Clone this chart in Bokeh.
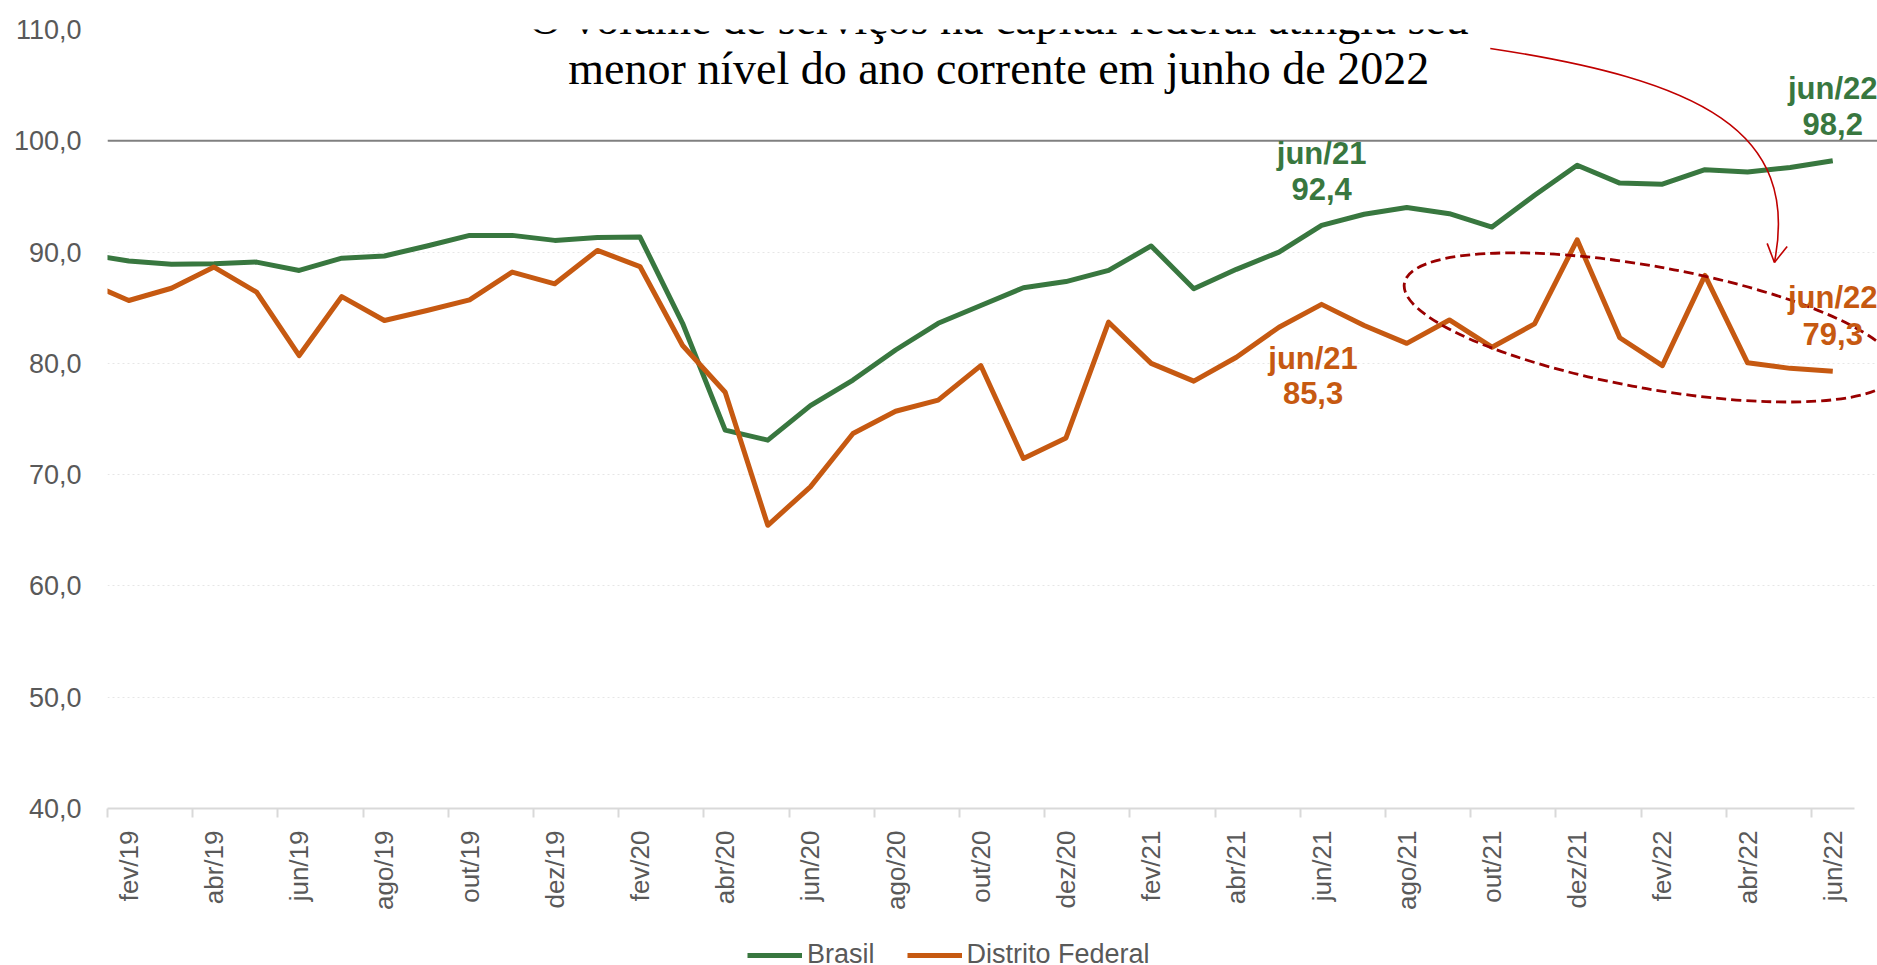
from bokeh.plotting import figure
from bokeh.layouts import column
from bokeh.models import FixedTicker, Span, Label, Legend, LegendItem, Range1d
from bokeh.embed import file_html
from bokeh.resources import INLINE

# ---------------- data ----------------
months = ["jan/19", "fev/19", "mar/19", "abr/19", "mai/19", "jun/19", "jul/19", "ago/19",
          "set/19", "out/19", "nov/19", "dez/19",
          "jan/20", "fev/20", "mar/20", "abr/20", "mai/20", "jun/20", "jul/20", "ago/20",
          "set/20", "out/20", "nov/20", "dez/20",
          "jan/21", "fev/21", "mar/21", "abr/21", "mai/21", "jun/21", "jul/21", "ago/21",
          "set/21", "out/21", "nov/21", "dez/21",
          "jan/22", "fev/22", "mar/22", "abr/22", "mai/22", "jun/22"]

brasil = [89.8, 89.2, 88.9, 88.95, 89.1, 88.35, 89.45, 89.65, 90.55, 91.5, 91.5, 91.05,
          91.3, 91.35, 83.6, 74.0, 73.1, 76.2, 78.5, 81.2, 83.6, 85.2, 86.8, 87.35,
          88.35, 90.55, 86.7, 88.45, 90.0, 92.4, 93.4, 94.0, 93.45, 92.25, 95.1, 97.8,
          96.2, 96.1, 97.4, 97.2, 97.6, 98.2]

distrito_federal = [87.3, 85.65, 86.75, 88.65, 86.4, 80.7, 86.0, 83.85, 84.75, 85.7, 88.2, 87.15,
                    90.15, 88.7, 81.6, 77.4, 65.45, 68.9, 73.7, 75.7, 76.7, 79.8, 71.45, 73.3,
                    83.7, 80.0, 78.4, 80.55, 83.25, 85.3, 83.4, 81.8, 83.9, 81.45, 83.55, 91.1,
                    82.3, 79.8, 87.9, 80.05, 79.55, 79.3]

y_ticks = [40, 50, 60, 70, 80, 90, 100, 110]
y_tick_labels = ["40,0", "50,0", "60,0", "70,0", "80,0", "90,0", "100,0", "110,0"]

series_names = ["Brasil", "Distrito Federal"]

title_lines = ["O volume de serviços na capital federal atingiu seu",
               "menor nível do ano corrente em junho de 2022"]

GREEN = "#38773F"
ORANGE = "#C65911"
GREY_TXT = "#595959"

x = list(range(len(months)))

p = figure(width=1877, height=935,
           x_range=Range1d(0.5, 42.05), y_range=Range1d(40, 110),
           output_backend="svg", toolbar_location=None,
           min_border_left=107, min_border_right=0, min_border_top=29, min_border_bottom=127)
p.outline_line_color = None
p.border_fill_alpha = 0
p.xgrid.visible = False

# y grid (faint dotted)
p.ygrid.ticker = FixedTicker(ticks=y_ticks[1:])
p.ygrid.grid_line_color = "#e6e6e6"
p.ygrid.grid_line_dash = "2 3"
p.ygrid.grid_line_width = 1
p.ygrid.bounds = (0.5, 41.5)

# reference line at 100
p.add_layout(Span(location=100, dimension="width", line_color="#808080",
                  line_width=2, level="underlay"))

# y axis
ya = p.yaxis[0]
ya.ticker = FixedTicker(ticks=y_ticks)
ya.major_label_overrides = {t: l for t, l in zip(y_ticks, y_tick_labels)}
ya.axis_line_color = None
ya.major_tick_line_color = None
ya.minor_tick_line_color = None
ya.major_tick_out = 0
ya.major_tick_in = 0
ya.major_label_standoff = 26
ya.major_label_text_font = "Liberation Sans"
ya.major_label_text_font_size = "27px"
ya.major_label_text_color = GREY_TXT

# x axis: labels every other month, tick marks at category boundaries
xa = p.xaxis[0]
label_idx = list(range(1, len(months), 2))
xa.ticker = FixedTicker(ticks=label_idx, minor_ticks=[i - 0.5 for i in label_idx])
xa.major_label_overrides = {i: months[i] for i in label_idx}
xa.bounds = (0.5, 41.5)
xa.axis_line_color = "#d9d9d9"
xa.axis_line_width = 2
xa.major_tick_line_color = None
xa.major_tick_out = 0
xa.major_tick_in = 0
xa.minor_tick_line_color = "#d9d9d9"
xa.minor_tick_line_width = 2
xa.minor_tick_out = 9
xa.minor_tick_in = 0
xa.major_label_orientation = 3.14159265 / 2
xa.major_label_standoff = 13
xa.major_label_text_font = "Liberation Sans"
xa.major_label_text_font_size = "26px"
xa.major_label_text_color = GREY_TXT

p.line(x, brasil, line_color=GREEN, line_width=5, line_join="round")
p.line(x, distrito_federal, line_color=ORANGE, line_width=5, line_join="round")

# ---------------- annotations ----------------
def fmt(v):
    return f"{v:.1f}".replace(".", ",")

i21 = months.index("jun/21")
i22 = months.index("jun/22")
lab_style = dict(text_font="Liberation Sans", text_font_size="31px", text_font_style="bold",
                 text_align="center", text_baseline="middle")
for (xx, yy, txt, col) in [
    (i21, 98.87, months[i21], GREEN), (i21, 95.63, fmt(brasil[i21]), GREEN),
    (i22, 104.7, months[i22], GREEN), (i22, 101.47, fmt(brasil[i22]), GREEN),
    (i21 - 0.2, 80.45, months[i21], ORANGE), (i21 - 0.2, 77.31, fmt(distrito_federal[i21]), ORANGE),
    (i22, 85.93, months[i22], ORANGE), (i22, 82.6, fmt(distrito_federal[i22]), ORANGE),
]:
    p.add_layout(Label(x=xx, y=yy, text=txt, text_color=col, **lab_style))

# title text
for yy, txt in [(111.0, title_lines[0]), (106.5, title_lines[1])]:
    p.add_layout(Label(x=21.42, y=yy, text=txt, text_font="Liberation Serif",
                       text_font_size="46px", text_align="center",
                       text_baseline="middle", text_color="black"))

# curved red arrow
p.bezier(x0=[32.96], y0=[108.30], x1=[39.63], y1=[89.07],
         cx0=[37.89], cy0=[105.43], cx1=[40.24], cy1=[100.94],
         line_color="#C00000", line_width=1.6)
p.segment(x0=[39.63, 39.63], y0=[89.07, 89.07], x1=[39.46, 39.93], y1=[90.78, 90.51],
          line_color="#C00000", line_width=1.6)

# dashed ellipse
p.ellipse(x=[36.72], y=[83.23], width=500, height=122, angle=-0.178,
          width_units="screen", height_units="screen",
          fill_color=None, line_color="#990000", line_width=2.8, line_dash="10 5")

# ---------------- legend strip ----------------
leg = figure(width=1877, height=30, x_range=Range1d(0, 1877), y_range=Range1d(0, 30),
             output_backend="svg", toolbar_location=None,
             x_axis_location=None, y_axis_location=None,
             min_border_left=0, min_border_right=0, min_border_top=0, min_border_bottom=0)
leg.outline_line_color = None
leg.grid.visible = False
# swatch renderers (kept outside the visible range; only their style feeds the legend)
s_br = leg.line(x=[-100, -90], y=[-100, -100], line_color=GREEN, line_width=5)
s_df = leg.line(x=[-100, -90], y=[-100, -100], line_color=ORANGE, line_width=5)
legend = Legend(items=[LegendItem(label=series_names[0], renderers=[s_br]),
                       LegendItem(label=series_names[1], renderers=[s_df])],
                orientation="horizontal", location=(640, -5),
                label_text_font="Liberation Sans", label_text_font_size="27px",
                label_text_color=GREY_TXT, glyph_width=55, glyph_height=26,
                label_height=26, label_standoff=5, spacing=32, padding=0, margin=0,
                border_line_color=None, background_fill_alpha=0)
leg.add_layout(legend, "center")

open("out.html", "w").write(file_html(column(p, leg), INLINE))
